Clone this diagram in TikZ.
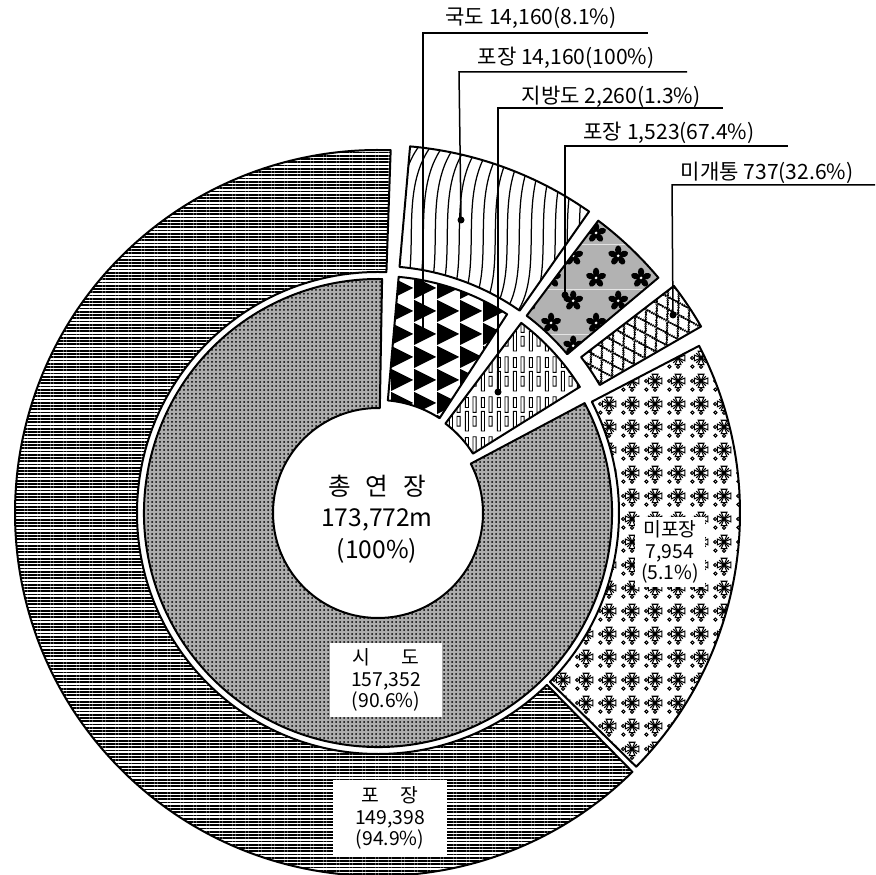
\documentclass[tikz,border=0pt]{standalone}
\usepackage{fontspec}
\setmainfont{Noto Sans CJK KR}
\usetikzlibrary{calc,patterns,patterns.meta}

\newcommand{\ringpath}[4]{($(O)+(#1:#3)$) arc[start angle=#1,end angle=#2,radius=#3*0.2mm] -- ($(O)+(#2:#4)$) arc[start angle=#2,end angle=#1,radius=#4*0.2mm] -- cycle}

\tikzdeclarepattern{
  name=trigrid,
  type=uncolored,
  bottom left={(0mm,0mm)},
  top right={(4.6mm,4.6mm)},
  tile size={(4.6mm,4.6mm)},
  code={\fill (0mm,0mm) -- (4.6mm,2.3mm) -- (0mm,4.6mm) -- cycle;}
}
\tikzdeclarepattern{
  name=dashbars,
  type=uncolored,
  bottom left={(0mm,0mm)},
  top right={(3.2mm,8mm)},
  tile size={(3.2mm,8mm)},
  code={
    \draw[line width=0.18mm] (0.3mm,0.6mm) rectangle (0.95mm,4.6mm);
    \draw[line width=0.18mm] (0.3mm,5.4mm) rectangle (0.95mm,7.4mm);
    \draw[line width=0.18mm] (1.9mm,1.6mm) rectangle (2.55mm,3.6mm);
    \draw[line width=0.18mm] (1.9mm,4.4mm) rectangle (2.55mm,7.6mm);
  }
}
\tikzdeclarepattern{
  name=flowers,
  type=colored,
  bottom left={(0mm,0mm)},
  top right={(9mm,9mm)},
  tile size={(9mm,9mm)},
  code={
    \fill[black!30] (0mm,0mm) rectangle (9mm,9mm);
    \foreach \cx/\cy in {2.25/2.25,6.75/6.75}{
      \foreach \i in {0,72,...,288}
        \fill[black,shift={(\cx mm,\cy mm)},rotate=\i] (0mm,0mm) .. controls (0.9mm,0.6mm) and (0.8mm,2mm) .. (0mm,2.1mm) .. controls (-0.8mm,2mm) and (-0.9mm,0.6mm) .. (0mm,0mm);
      \fill[white] (\cx mm,\cy mm) circle (0.3mm);
    }
  }
}
\tikzdeclarepattern{
  name=diamonds,
  type=uncolored,
  bottom left={(0mm,0mm)},
  top right={(2.6mm,4.2mm)},
  tile size={(2.6mm,4.2mm)},
  tile transformation={rotate=30},
  code={\draw[line width=0.35mm] (0mm,0mm) -- (2.6mm,4.2mm) (0mm,4.2mm) -- (2.6mm,0mm);}
}
\tikzdeclarepattern{
  name=bowties,
  type=uncolored,
  bottom left={(0mm,0mm)},
  top right={(4.6mm,4.6mm)},
  tile size={(4.6mm,4.6mm)},
  code={
    \foreach \a in {0,90,180,270}
      \draw[line width=0.22mm,shift={(2.3mm,2.3mm)},rotate=\a] (0mm,0mm) -- (1.4mm,0.6mm) -- (1.4mm,-0.6mm) -- cycle;
    \draw[line width=0.22mm] (1.3mm,1.3mm) -- (3.3mm,3.3mm) (1.3mm,3.3mm) -- (3.3mm,1.3mm);
    \foreach \cx/\cy in {0.5/0.5,2.3/0.45,0.45/2.3}
      \draw[line width=0.22mm] (\cx mm,\cy mm) circle (0.32mm);
  }
}

\tikzset{
  slice/.style={draw,line width=0.4mm,line join=round},
  lead/.style={line width=0.3mm},
  toplbl/.style={font=\fontsize{12}{14}\selectfont,inner sep=0pt,anchor=base},
  boxlbl/.style={fill=white,align=center,font=\fontsize{11}{12.2}\selectfont,inner sep=1pt},
}

\begin{document}
\begin{tikzpicture}[x=0.2mm,y=0.2mm]
\useasboundingbox (0,0) rectangle (876,874);
\coordinate (O) at (378,361);
\draw[slice,pattern={Lines[angle=0,distance=0.65mm,line width=0.35mm]}] \ringpath{88}{314.5}{241}{363};
\draw[slice,pattern=bowties] \ringpath{315.5}{387.5}{241}{362};
\draw[slice,preaction={fill=black!32},pattern={Dots[distance=0.8mm,radius=0.2mm]}] \ringpath{89}{388}{105}{234};
\draw[slice,pattern=trigrid] \ringpath{57}{85}{113}{237};
\draw[slice,pattern=dashbars] \ringpath{32}{53}{112}{238};
\begin{scope}
\clip \ringpath{55}{85}{247}{368};
\foreach \x in {320,332,...,600}
  \draw[line width=0.25mm] (\x,555) .. controls (\x+40,600) and (\x-5,690) .. (\x+50,740);
\end{scope}
\draw[slice] \ringpath{55}{85}{247}{368};
\draw[slice,pattern=flowers] \ringpath{40}{53}{247}{366};
\draw[slice,pattern=diamonds] \ringpath{30}{37.5}{256}{373};

\node[align=center,font=\fontsize{14}{18}\selectfont] (total) at (377,355) {총\hspace{0.6em}연\hspace{0.6em}장\\173,772m\\(100\%)};
\node[boxlbl,minimum width=22.4mm,minimum height=14.8mm] (sido) at (386,194) {시\hspace{1.6em}도\\157,352\\(90.6\%)};
\node[boxlbl,minimum width=22.8mm,minimum height=15.4mm] (pojang) at (390,56) {포\hspace{1.1em}장\\149,398\\(94.9\%)};
\node[boxlbl,minimum width=14mm,minimum height=14mm] (mipojang) at (670,322) {미포장\\7,954\\(5.1\%)};

\coordinate (gd-dot) at (423,539);
\coordinate (gd-knee) at (423,841);
\coordinate (gd-end) at (648,841);
\coordinate (gp-dot) at (461,654);
\coordinate (gp-knee) at (459,802);
\coordinate (gp-end) at (687,802);
\coordinate (jd-dot) at (498,482);
\coordinate (jd-knee) at (498,766);
\coordinate (jd-end) at (723,766);
\coordinate (jp-dot) at (565,579);
\coordinate (jp-knee) at (565,728);
\coordinate (jp-end) at (788,728);
\coordinate (mg-dot) at (673,559);
\coordinate (mg-knee) at (672,689);
\coordinate (mg-end) at (875,689);
\draw[lead] (gd-dot) -- (gd-knee) -- (gd-end);
\draw[lead] (gp-dot) -- (gp-knee) -- (gp-end);
\draw[lead] (jd-dot) -- (jd-knee) -- (jd-end);
\draw[lead] (jp-dot) -- (jp-knee) -- (jp-end);
\draw[lead] (mg-dot) -- (mg-knee) -- (mg-end);
\fill (gd-dot) circle (0.7mm);
\fill (gp-dot) circle (0.7mm);
\fill (jd-dot) circle (0.7mm);
\fill (jp-dot) circle (0.7mm);
\fill (mg-dot) circle (0.7mm);
\node[toplbl] (gd-lbl) at (531,849) {국도 14,160(8.1\%)};
\node[toplbl] (gp-lbl) at (566,809) {포장 14,160(100\%)};
\node[toplbl] (jd-lbl) at (611,770) {지방도 2,260(1.3\%)};
\node[toplbl] (jp-lbl) at (669,734) {포장 1,523(67.4\%)};
\node[toplbl] (mg-lbl) at (767,694) {미개통 737(32.6\%)};
\end{tikzpicture}
\end{document}
